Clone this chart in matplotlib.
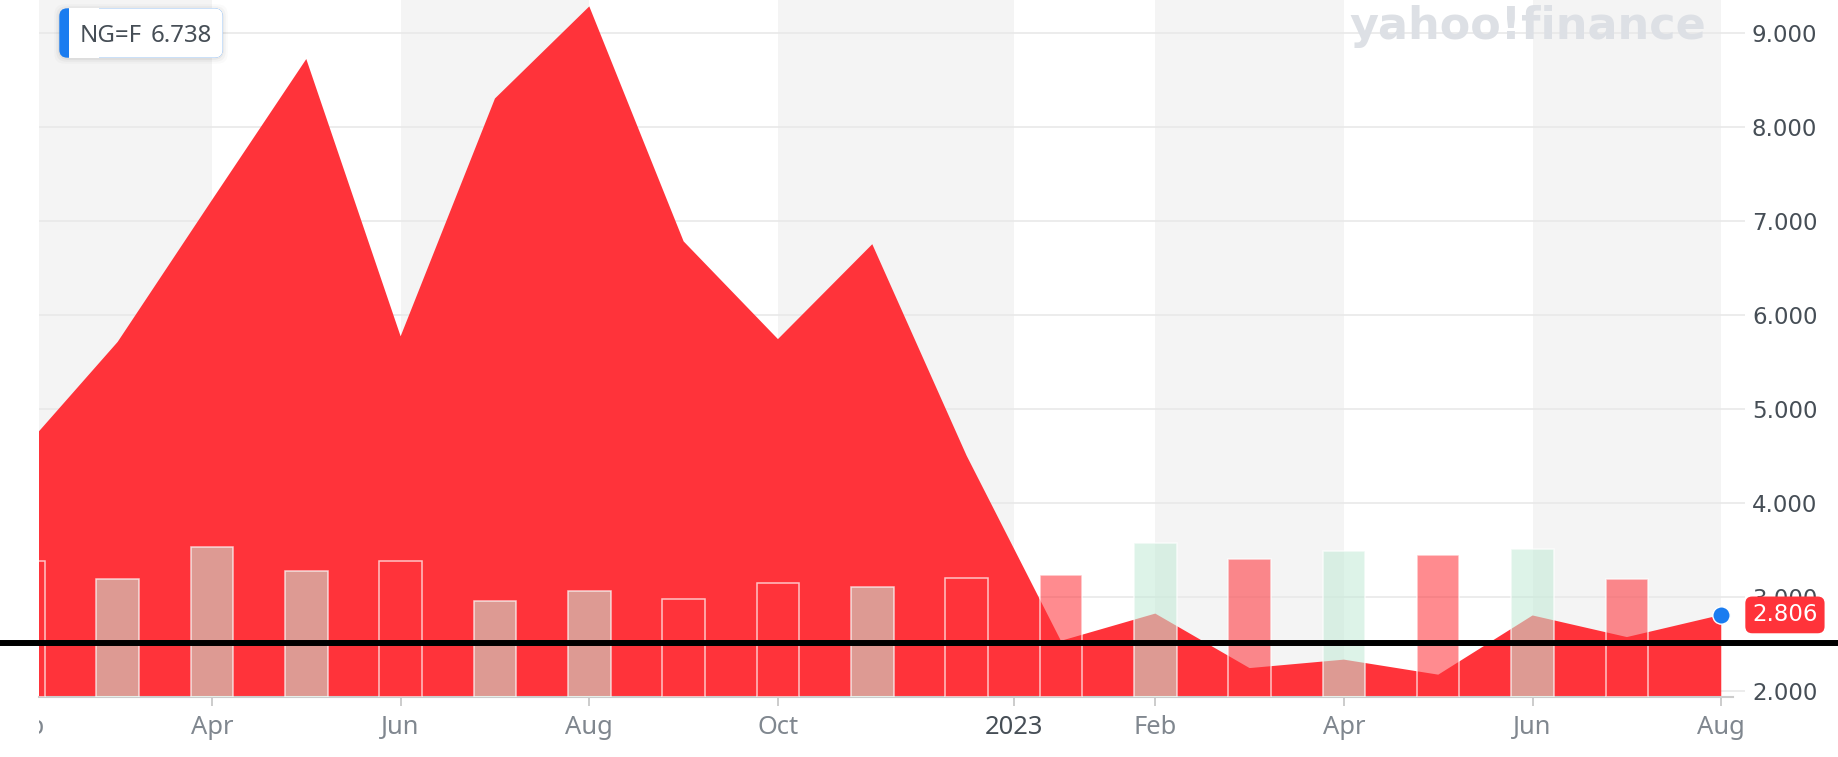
"""NG=F monthly area chart with volume bars, Yahoo Finance style."""

import matplotlib

matplotlib.use("Agg")

import numpy as np
from matplotlib import pyplot as plt
from matplotlib import ticker, transforms
from matplotlib.lines import Line2D
from matplotlib.patches import FancyBboxPatch, Rectangle
from matplotlib.text import Text

# monthly data, Feb 2022 .. Aug 2023
MONTHS = [
    "2022-02", "2022-03", "2022-04", "2022-05", "2022-06", "2022-07", "2022-08",
    "2022-09", "2022-10", "2022-11", "2022-12", "2023-01", "2023-02", "2023-03",
    "2023-04", "2023-05", "2023-06", "2023-07", "2023-08",
]
CLOSE = [4.57, 5.71, 7.22, 8.72, 5.77, 8.30, 9.28, 6.78, 5.74, 6.75,
         4.50, 2.53, 2.82, 2.24, 2.33, 2.17, 2.80, 2.57, 2.806]
# volume (millions), no bar yet for the running month
VOLUME = [2.72, 2.36, 3.00, 2.52, 2.72, 1.92, 2.12, 1.96, 2.28, 2.20,
          2.38, 2.44, 3.08, 2.76, 2.92, 2.84, 2.96, 2.36]
UP_MONTH = [False, True, True, True, False, True, True, False, False, True,
            False, False, True, False, True, False, True, False]

TICK_POS = [0, 2, 4, 6, 8, 10.5, 12, 14, 16, 18]
TICK_LABELS = ["Feb", "Apr", "Jun", "Aug", "Oct", "2023", "Feb", "Apr", "Jun", "Aug"]
PRICE_TICKS = [2, 3, 4, 5, 6, 7, 8, 9]

SYMBOL = "NG=F"
HOVER_VALUE = 6.738
LAST_PRICE = 2.806
REF_LEVEL = 2.51

COLOR_RED = "#ff333a"
COLOR_BAND = "#f4f4f4"
COLOR_GRID = "#e7e7e7"
COLOR_AXIS = "#cccccc"
COLOR_TEXT = "#464e56"
COLOR_XTEXT = "#80878f"
COLOR_BLUE = "#1a7cf0"
RED_BAR = (1.0, 0.2, 0.227, 0.57)
GREEN_BAR = (0.77, 0.918, 0.843, 0.57)

plt.rcParams["font.family"] = ["DejaVu Sans"]

fig = plt.figure(figsize=(18.38, 7.57), dpi=100)
ax = fig.add_axes([0.0211, 0.0797, 0.9218, 0.9203])
ax_vol = ax.twinx()
x = np.arange(len(MONTHS))

# alternating bands between ticks
for start, end in zip(TICK_POS[0::2], TICK_POS[1::2]):
    ax.axvspan(start, end, color=COLOR_BAND, lw=0, zorder=0)

ax.fill_between(x, CLOSE, 0, color=COLOR_RED, lw=0, zorder=1)

ax.set_xlim(0.164, 18.125)
ax.set_ylim(1.936, 9.348)
ax.set_axisbelow(True)
ax.yaxis.grid(True, color=COLOR_GRID, lw=1.1)
ax.set_yticks(PRICE_TICKS)
ax.yaxis.set_major_formatter(ticker.FormatStrFormatter("%.3f"))
ax.yaxis.tick_right()
ax.tick_params(axis="y", length=8.6, width=1.1, color=COLOR_GRID, pad=5,
               labelsize=16.5, labelcolor=COLOR_TEXT)
for side in ["top", "left", "right"]:
    ax.spines[side].set_visible(False)
ax.spines["bottom"].set_color(COLOR_AXIS)
ax.spines["bottom"].set_linewidth(1.5)

ax.set_xticks(TICK_POS[1:], TICK_LABELS[1:])
ax.tick_params(axis="x", length=6.5, width=1.4, color=COLOR_AXIS, pad=7,
               labelsize=18.4, labelcolor=COLOR_XTEXT)
for label in ax.get_xticklabels():
    label.set_fontfamily("Noto Sans")
    if label.get_text() == "2023":
        label.set_fontweight("bold")
        label.set_color(COLOR_TEXT)

# first month label, cut by the plot edge
label_trans, _va, _ha = ax.get_xaxis_text1_transform(6.5 + 7)
first_label = Text(TICK_POS[0], 0, TICK_LABELS[0], transform=label_trans, va="top",
                   ha="center", fontsize=18.4, color=COLOR_XTEXT, family="Noto Sans")
first_label.set_clip_box(transforms.TransformedBbox(
    transforms.Bbox([[0, -1], [1, 1]]), ax.transAxes))
first_label.set_clip_on(True)
fig.add_artist(first_label)

# volume bars
ax_vol.set_ylim(0, 13.93)
ax_vol.bar(x[:len(VOLUME)], VOLUME, width=0.45,
           color=[GREEN_BAR if up else RED_BAR for up in UP_MONTH],
           edgecolor=(1, 1, 1, 0.7), linewidth=1.1)
ax_vol.axis("off")

# horizontal reference line across the whole picture
ref_trans = transforms.blended_transform_factory(fig.transFigure, ax.transData)
fig.add_artist(Line2D([0, 1], [REF_LEVEL, REF_LEVEL], transform=ref_trans,
                      color="black", lw=4.3, solid_capstyle="butt"))

# last price dot and tag
fig.add_artist(Line2D([x[-1]], [CLOSE[-1]], transform=ax.transData, marker="o",
                      markersize=12.5, color=COLOR_BLUE, mec="white", mew=1.0))
tag_trans = transforms.blended_transform_factory(ax.transAxes, ax.transData)
fig.add_artist(Text(1.0113, LAST_PRICE, f"{LAST_PRICE:.3f}", transform=tag_trans,
                    ha="left", va="center", fontsize=16.5, color="white",
                    bbox=dict(boxstyle="round,pad=0.3,rounding_size=0.3",
                              fc=COLOR_RED, ec="none")))

# hover tooltip, top left (inches)
box_x, box_y, box_w, box_h = 0.593, 6.993, 1.634, 0.494
for grow, alpha in [(0.05, 0.02), (0.03, 0.03), (0.012, 0.04)]:
    fig.add_artist(FancyBboxPatch(
        (box_x - grow, box_y - grow - 0.01), box_w + 2 * grow, box_h + 2 * grow,
        boxstyle="round,pad=0,rounding_size=0.1", transform=fig.dpi_scale_trans,
        fc=(0, 0, 0, alpha), ec="none"))
fig.add_artist(FancyBboxPatch((box_x, box_y), box_w, box_h,
                              boxstyle="round,pad=0,rounding_size=0.08",
                              transform=fig.dpi_scale_trans, fc=COLOR_BLUE, ec="none"))
fig.add_artist(Rectangle((box_x + 0.097, box_y), 0.3, box_h,
                         transform=fig.dpi_scale_trans, fc="white", ec="none"))
fig.add_artist(FancyBboxPatch((box_x + 0.097, box_y), box_w - 0.097, box_h,
                              boxstyle="round,pad=0,rounding_size=0.08",
                              transform=fig.dpi_scale_trans, fc="white", ec="none"))
fig.add_artist(Text(0.80, 7.147, SYMBOL, transform=fig.dpi_scale_trans, ha="left",
                    va="baseline", fontsize=17.3, color=COLOR_TEXT, family="Noto Sans"))
fig.add_artist(Text(1.507, 7.147, f"{HOVER_VALUE:.3f}", transform=fig.dpi_scale_trans,
                    ha="left", va="baseline", fontsize=17.3, color=COLOR_TEXT,
                    family="Noto Sans"))

# watermark
fig.add_artist(Text(15.275, 7.176, "yahoo!finance", transform=fig.dpi_scale_trans,
                    ha="center", va="baseline", fontsize=32, fontweight="bold",
                    color="#dde0e5"))

fig.savefig("out.png", dpi=100, facecolor="white")
